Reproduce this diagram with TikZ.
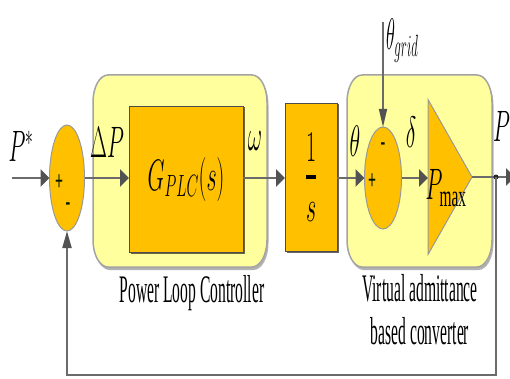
\documentclass[tikz,border=0pt]{standalone}
\usepackage{fix-cm}
\usepackage{fontspec}
\setmainfont{Liberation Serif}
\usepackage{graphicx}
\usetikzlibrary{arrows.meta,shapes.geometric,shadows}
\definecolor{amber}{RGB}{255,192,0}
\definecolor{pale}{RGB}{255,255,158}
\definecolor{wire}{gray}{0.42}
\definecolor{tip}{gray}{0.32}
\definecolor{rim}{gray}{0.64}
\newcommand{\squash}[2][0.5]{\scalebox{#1}[1]{#2}}

\begin{document}
\begin{tikzpicture}[x=1pt,y=1pt,
  every node/.style={inner sep=0pt,outer sep=0pt,text=black},
  panel/.style={fill=pale,draw=rim,line width=1.5pt,
    preaction={fill=black!30,transform canvas={xshift=1.5pt,yshift=-3pt}}},
  blk/.style={draw=black!70,fill=amber,line width=0.8pt,
    drop shadow={shadow xshift=1.5pt,shadow yshift=-1.5pt,fill=black,opacity=0.6}},
  sumj/.style={ellipse,draw=black!40,fill=amber,line width=1pt},
  ml/.style={font=\fontsize{44}{48}\selectfont},
  tl/.style={font=\fontsize{39}{43}\selectfont,align=center},
  sg/.style={font=\bfseries\fontsize{28}{28}\selectfont,text=black!85!green!60!black},
  sig/.style={draw=wire,line width=2.6pt,-{Triangle[length=9pt,width=17pt,color=tip]}},
  fb/.style={draw=wire,line width=2pt,-{Triangle[length=17pt,width=9pt,color=tip]}},
  vsig/.style={draw=wire,line width=1.5pt,-{Triangle[length=18pt,width=8pt,color=tip]}}]

\useasboundingbox (0,0) rectangle (510,378);

% ---- panels --------------------------------------------------------------
\foreach \xa/\xb in {93/267,347/492} {
  \draw[panel] (\xa+15,303) -- (\xb-15,303)
    arc[start angle=90,end angle=0,x radius=15,y radius=27] -- (\xb,138)
    arc[start angle=0,end angle=-90,x radius=15,y radius=27] -- (\xa+15,111)
    arc[start angle=270,end angle=180,x radius=15,y radius=27] -- (\xa,276)
    arc[start angle=180,end angle=90,x radius=15,y radius=27] -- cycle;
}

% ---- blocks --------------------------------------------------------------
\node[sumj,minimum width=35pt,minimum height=106pt] (sum1) at (67,200) {};
\node[blk,ml,minimum width=114pt,minimum height=146pt] (gplc) at (186,199)
  {\squash{$G_{PLC}(s)$}};
\node[blk,ml,minimum width=52pt,minimum height=148pt] (integ) at (311,201)
  {\squash{\vbox{\hbox to 20pt{\hfil$1$\hfil}\vskip14pt\hrule height 4pt
    \vskip23pt\hbox to 20pt{\hfil$s$\hfil}}}};
\node[sumj,minimum width=37pt,minimum height=102pt] (sum2) at (383,200) {};
\node[isosceles triangle,isosceles triangle stretches,draw=black!40,fill=amber,
  line width=1pt,minimum width=155pt,minimum height=44pt,anchor=west] (gain) at (428,201) {};

% ---- signal path ---------------------------------------------------------
\coordinate (pin) at (12,200);
\coordinate (pout) at (515,201);
\coordinate (fbl) at (67,3);
\coordinate (gridin) at (383,356);
\draw[sig] (pin) -- (sum1);
\draw[sig] (sum1) -- (sum1 -| gplc.west);
\draw[sig] (gplc.east |- sum1) -- (integ.west |- sum1);
\draw[sig] (integ.east |- sum2) -- (sum2);
\draw[sig] (sum2) -- (gain.west |- sum2);
\draw[sig] (gain.apex) -- (pout);
\node[circle,fill=black!85,minimum size=5pt] (tap) at (496,201) {};
\draw[fb] (tap.center) |- (fbl) -- (sum1.south);
\draw[vsig] (gridin) -- (sum2.north);

% ---- labels --------------------------------------------------------------
\node[ml] (pstar) at (21,232) {\squash{$P^{*}$}};
\node[ml] (dp) at (107,236) {\squash{$\Delta P$}};
\node[ml] (om) at (255,237) {\squash{$\omega$}};
\node[ml] (th) at (355,237) {\squash{$\theta$}};
\node[ml] (de) at (411,246) {\squash{$\delta$}};
\node[ml,anchor=west] (thg) at (386,337) {\squash[0.42]{$\theta_{grid}$}};
\node[ml] (pmax) at (446,190) {\squash{$P_{\max}$}};
\node[ml,anchor=west] (ptxt) at (493,252) {\squash{$P$}};
\node[sg] (s1p) at (59,195) {\squash{+}};
\node[sg] (s1m) at (68,171) {\squash{-}};
\node[sg] (s2m) at (383,231) {\squash{-}};
\node[sg] (s2p) at (372,196) {\squash{+}};
\node[tl] (plcname) at (192,85) {\squash[0.4]{Power Loop Controller}};
\node[tl] (vaname) at (420,68) {\squash[0.4]{Virtual admittance}\\
  \squash[0.4]{based converter}};
\end{tikzpicture}
\end{document}
